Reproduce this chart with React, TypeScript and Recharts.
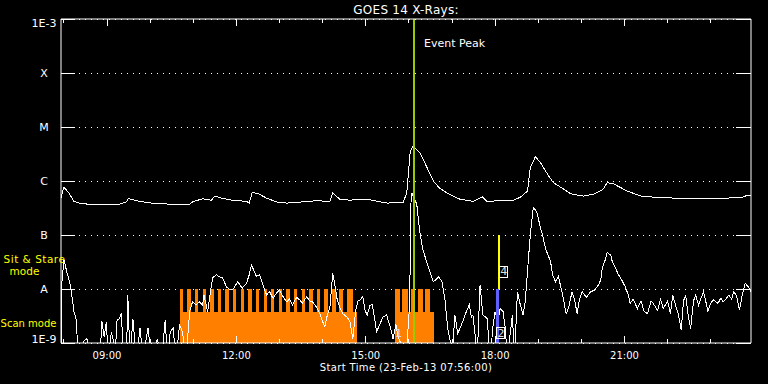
import React from "react";
import {
  Area,
  CartesianGrid,
  ComposedChart,
  Line,
  ReferenceDot,
  ReferenceLine,
  XAxis,
  YAxis,
} from "recharts";

// minutes after 00:00 UT on 23-Feb-13
const timeDomain = [476, 1436];
const hourTicks = [480, 540, 600, 660, 720, 780, 840, 900, 960, 1020, 1080, 1140, 1200, 1260, 1320, 1380];
const labelledTicks = [540, 720, 900, 1080, 1260];
const labelledText = ["09:00", "12:00", "15:00", "18:00", "21:00"];

const fluxTicks = [1e-9, 1e-8, 1e-7, 1e-6, 1e-5, 1e-4, 1e-3];
const fluxLabels = ["1E-9", "A", "B", "C", "M", "X", "1E-3"];

// 1-8 A channel [minute, W/m2]
const longChannel: [number, number][] = [
  [476, 4.9e-7], [480, 7.7e-7], [487, 6.0e-7], [494, 4.2e-7], [501, 3.9e-7],
  [515, 3.7e-7], [529, 3.7e-7], [543, 3.6e-7], [557, 3.7e-7], [567, 4.1e-7],
  [570, 4.75e-7], [581, 4.3e-7], [595, 4.0e-7], [609, 3.8e-7], [613, 3.9e-7],
  [627, 3.7e-7], [641, 3.6e-7], [655, 3.7e-7], [659, 4.1e-7], [673, 4.7e-7],
  [685, 4.4e-7], [690, 5.25e-7], [701, 4.75e-7], [715, 4.4e-7], [734, 4.2e-7],
  [738, 3.9e-7], [742, 6.2e-7], [752, 5.7e-7], [762, 4.8e-7], [776, 4.1e-7],
  [790, 3.9e-7], [804, 4.0e-7], [818, 4.2e-7], [832, 4.3e-7], [850, 4.2e-7],
  [854, 6.0e-7], [864, 4.6e-7], [878, 4.4e-7], [892, 4.6e-7], [906, 4.5e-7],
  [920, 4.1e-7], [930, 3.9e-7], [952, 4.0e-7], [957, 6.0e-7], [962, 3.6e-6],
  [966, 4.5e-6], [976, 3.2e-6], [985, 1.8e-6], [994, 1.0e-6], [1003, 7.3e-7],
  [1017, 5.6e-7], [1031, 4.6e-7], [1050, 4.2e-7], [1062, 5.1e-7], [1069, 4.1e-7],
  [1087, 4.4e-7], [1105, 4.4e-7], [1115, 5.0e-7], [1125, 6.5e-7], [1129, 1.8e-6],
  [1136, 2.8e-6], [1143, 2.2e-6], [1153, 1.33e-6], [1161, 9.3e-7], [1171, 7.7e-7],
  [1185, 5.8e-7], [1203, 5.25e-7], [1217, 5.7e-7], [1230, 7.0e-7], [1236, 9.3e-7],
  [1245, 8.8e-7], [1264, 6.5e-7], [1283, 5.25e-7], [1310, 4.9e-7], [1352, 4.75e-7],
  [1394, 4.8e-7], [1422, 4.9e-7], [1432, 5.5e-7], [1436, 5.5e-7],
];

// 0.5-4 A channel [minute, W/m2]
const shortChannel: [number, number][] = [
  [476, 5e-10], [477, 1.2e-8], [480, 3.5e-8], [484, 2.1e-8], [487, 1.5e-8],
  [490, 1.0e-8], [494, 3.8e-9], [497, 2.8e-9], [498, 1.6e-9], [501, 5e-10],
  [508, 1.1e-9], [512, 1.2e-9], [518, 5e-10], [530, 5e-10], [533, 2.5e-9],
  [536, 1.3e-9], [539, 2.4e-9], [542, 5e-10], [546, 1.6e-9], [549, 1.1e-9],
  [551, 5e-10], [554, 2.7e-9], [557, 2.8e-9], [560, 3.6e-9], [563, 5e-10],
  [567, 5e-10], [569, 7.7e-9], [572, 5e-10], [576, 2.8e-9], [581, 5e-10],
  [586, 1.9e-9], [590, 5e-10], [597, 1.9e-9], [602, 5e-10], [610, 1.2e-9],
  [616, 5e-10], [621, 2.7e-9], [624, 5e-10], [628, 1.6e-9], [632, 1.9e-9],
  [636, 5e-10], [641, 2.2e-9], [645, 1.6e-9], [650, 5e-10], [655, 3.8e-9],
  [659, 5.8e-9], [664, 5.1e-9], [669, 5.8e-9], [673, 5.0e-9], [675, 7.7e-9],
  [680, 3.8e-9], [684, 9.0e-9], [687, 1.6e-8], [692, 1.85e-8], [696, 1.7e-8],
  [701, 1.6e-8], [706, 1.1e-8], [710, 1.0e-8], [715, 9.7e-9], [722, 1.37e-8],
  [728, 1.03e-8], [734, 1.27e-8], [738, 1.85e-8], [741, 2.8e-8], [745, 2.1e-8],
  [748, 1.7e-8], [752, 1.85e-8], [756, 1.3e-8], [762, 7.7e-9], [766, 9.0e-9],
  [771, 6.7e-9], [776, 8.5e-9], [780, 9.7e-9], [784, 7.5e-9], [790, 5.8e-9],
  [794, 6.5e-9], [798, 5.1e-9], [804, 7.0e-9], [808, 6.3e-9], [812, 5.5e-9],
  [818, 7.2e-9], [822, 6.0e-9], [826, 5.8e-9], [832, 4.5e-9], [836, 3.5e-9],
  [840, 2.5e-9], [843, 2.0e-9], [847, 3.5e-9], [850, 4.35e-9], [854, 1.95e-8],
  [857, 1.2e-8], [860, 6.7e-9], [864, 4.5e-9], [868, 3.5e-9], [874, 3.0e-9],
  [878, 2.5e-9], [882, 1.2e-9], [886, 4.0e-9], [889, 6.0e-9], [892, 6.3e-9],
  [896, 7.2e-9], [899, 4.0e-9], [902, 3.3e-9], [906, 5.0e-9], [909, 5.1e-9],
  [913, 2.5e-9], [915, 1.6e-9], [920, 2.3e-9], [924, 3.0e-9], [929, 3.3e-9],
  [934, 2.0e-9], [938, 1.2e-9], [942, 2.2e-9], [945, 1.3e-9], [948, 1.04e-9],
  [952, 5e-10], [956, 5e-10], [961, 5.0e-9], [963, 4.2e-7], [964, 6.0e-7],
  [971, 3.7e-7], [975, 1.17e-7], [979, 5.7e-8], [986, 2.8e-8], [994, 1.37e-8],
  [998, 1.5e-8], [1001, 1.7e-8], [1006, 1.37e-8], [1010, 6.7e-9], [1014, 1.85e-9],
  [1017, 1.2e-9], [1020, 5e-10], [1024, 3.3e-9], [1028, 1.5e-9], [1031, 1.85e-9],
  [1035, 2.5e-9], [1038, 3.3e-9], [1044, 5.1e-9], [1047, 3.0e-9], [1049, 3.3e-9],
  [1052, 1.5e-9], [1055, 5e-10], [1059, 1.19e-8], [1063, 3.3e-9], [1069, 2.84e-9],
  [1071, 1.2e-9], [1073, 5e-10], [1077, 2.0e-9], [1080, 3.8e-9], [1084, 2.5e-9],
  [1087, 4.35e-9], [1091, 3.8e-9], [1094, 2.0e-9], [1097, 5e-10], [1101, 1.5e-9],
  [1104, 3.3e-9], [1107, 5e-10], [1111, 8.9e-9], [1115, 5.1e-9], [1119, 3.3e-9],
  [1122, 6.0e-9], [1125, 2.1e-8], [1129, 1.03e-7], [1133, 3.2e-7], [1136, 2.9e-7],
  [1139, 2.4e-7], [1143, 1.35e-7], [1146, 1.0e-7], [1150, 5.7e-8], [1153, 4.4e-8],
  [1157, 3.3e-8], [1160, 1.8e-8], [1164, 1.37e-8], [1168, 1.7e-8], [1173, 8.9e-9],
  [1179, 3.4e-9], [1183, 5.0e-9], [1187, 8.9e-9], [1191, 6.0e-9], [1194, 3.5e-9],
  [1197, 6.0e-9], [1201, 8.9e-9], [1207, 7.0e-9], [1213, 8.9e-9], [1218, 9.5e-9],
  [1224, 1.19e-8], [1227, 1.5e-8], [1229, 2.4e-8], [1234, 3.7e-8], [1236, 4.8e-8],
  [1241, 4.2e-8], [1243, 3.2e-8], [1247, 2.5e-8], [1252, 1.8e-8], [1257, 1.4e-8],
  [1261, 1.1e-8], [1265, 8.0e-9], [1268, 5.4e-9], [1272, 6.5e-9], [1278, 4.35e-9],
  [1283, 6.0e-9], [1287, 3.9e-9], [1292, 3.5e-9], [1297, 6.0e-9], [1300, 5.4e-9],
  [1306, 4.0e-9], [1310, 6.5e-9], [1314, 4.35e-9], [1320, 6.0e-9], [1324, 3.5e-9],
  [1327, 7.7e-9], [1331, 5.0e-9], [1334, 3.8e-9], [1337, 2.5e-9], [1339, 1.73e-9],
  [1342, 6.0e-9], [1345, 7.7e-9], [1349, 3.0e-9], [1352, 1.85e-9], [1356, 6.0e-9],
  [1359, 7.7e-9], [1363, 5.0e-9], [1366, 6.5e-9], [1370, 8.9e-9], [1373, 6.0e-9],
  [1376, 3.8e-9], [1380, 5.5e-9], [1384, 6.25e-9], [1390, 5.4e-9], [1394, 6.8e-9],
  [1397, 5.8e-9], [1401, 6.5e-9], [1405, 7.7e-9], [1409, 6.5e-9], [1412, 8.9e-9],
  [1416, 7.5e-9], [1420, 4.06e-9], [1424, 8.0e-9], [1428, 1.27e-8], [1432, 1.1e-8],
  [1436, 8.9e-9],
];

// observing mode: A level = sit & stare, lower level = scan
const modeSteps: [number, number | null][] = [
  [641, 1e-8], [646, 3.8e-9], [651, 1e-8], [657, 3.8e-9], [662, 1e-8], [667, 3.8e-9],
  [673, 1e-8], [678, 3.8e-9], [683, 1e-8], [689, 3.8e-9], [694, 1e-8], [699, 3.8e-9],
  [704, 1e-8], [710, 3.8e-9], [715, 1e-8], [720, 3.8e-9], [726, 1e-8], [731, 3.8e-9],
  [736, 1e-8], [742, 3.8e-9], [747, 1e-8], [752, 3.8e-9], [758, 1e-8], [763, 3.8e-9],
  [768, 1e-8], [773, 3.8e-9], [779, 1e-8], [784, 3.8e-9], [789, 1e-8], [795, 3.8e-9],
  [800, 1e-8], [805, 3.8e-9], [811, 1e-8], [816, 3.8e-9], [821, 1e-8], [826, 3.8e-9],
  [832, 1e-8], [837, 3.8e-9], [842, 1e-8], [848, 3.8e-9], [853, 1e-8], [858, 3.8e-9],
  [863, 1e-8], [869, 3.8e-9], [874, 1e-8], [882, 3.8e-9], [888, 3.8e-9], [889, null],
  [941, 1e-8], [948, 3.8e-9], [951, 1e-8], [959, 3.8e-9], [963, 1e-8], [969, 3.8e-9],
  [973, 1e-8], [980, 3.8e-9], [983, 1e-8], [990, 3.8e-9], [995, 3.8e-9],
];

const eventPeak = 966.5;
const sitStareMarker = { t: 1085.5, from: 1e-7, to: 1e-8 };
const scanMarker = { t: 1083.3, from: 1e-8, to: 1e-9 };
const notes: { t: number; flux: number; text: string; box: boolean }[] = [
  { t: 946, flux: 1.5e-9, text: "1", box: false },
  { t: 1088, flux: 1.5e-9, text: "2", box: true },
  { t: 1092, flux: 2.1e-8, text: "4", box: true },
];

const longData = longChannel.map(([t, flux]) => ({ t, flux }));
const shortData = shortChannel.map(([t, flux]) => ({ t, flux }));
const modeData = modeSteps.map(([t, flux]) => ({ t, flux }));

const PLOT_LEFT = 61;
const PLOT_RIGHT = 751;
const PLOT_TOP = 19;
const PLOT_BOTTOM = 343;
const FONT = "'DejaVu Sans', sans-serif";

function FluxTick(props: any) {
  const { y, payload } = props;
  const i = fluxTicks.findIndex((v) => Math.abs(v - payload.value) / v < 1e-6);
  const shift = i === 0 ? -4 : i === fluxTicks.length - 1 ? 4 : 0;
  return (
    <g>
      <line x1={PLOT_LEFT} x2={PLOT_LEFT + 14} y1={y} y2={y} stroke="#fff" shapeRendering="crispEdges" />
      <line x1={PLOT_RIGHT - 15} x2={PLOT_RIGHT} y1={y} y2={y} stroke="#fff" shapeRendering="crispEdges" />
      <text x={44} y={y + shift} textAnchor="middle" dominantBaseline="central" fill="#fff" fontSize={11} fontFamily={FONT}>
        {fluxLabels[i]}
      </text>
    </g>
  );
}

function TimeTick(props: any) {
  const { x, payload } = props;
  const i = labelledTicks.indexOf(payload.value);
  const len = i >= 0 ? 7 : 4;
  return (
    <g>
      <line x1={x} x2={x} y1={PLOT_BOTTOM} y2={PLOT_BOTTOM - len} stroke="#fff" shapeRendering="crispEdges" />
      <line x1={x} x2={x} y1={PLOT_TOP} y2={PLOT_TOP + len} stroke="#fff" shapeRendering="crispEdges" />
      {i >= 0 && (
        <text x={x} y={355} textAnchor="middle" dominantBaseline="central" fill="#fff" fontSize={10} fontFamily={FONT}>
          {labelledText[i]}
        </text>
      )}
    </g>
  );
}

function NoteMark(props: any) {
  const { cx, cy, text, box } = props;
  return (
    <g>
      {box && <rect x={cx - 4} y={cy - 5.5} width={8} height={11} fill="none" stroke="#fff" shapeRendering="crispEdges" />}
      <text x={cx} y={cy} textAnchor="middle" dominantBaseline="central" fill="#ddd" fontSize={11} fontFamily={FONT}>
        {text}
      </text>
    </g>
  );
}

function Txt({ x, y, color = "#fff", size = 11, anchor = "middle", spacing = 0, children }: any) {
  return (
    <div
      style={{
        position: "absolute",
        left: x,
        top: y,
        transform: `translate(${anchor === "middle" ? "-50%" : "0"}, -50%)`,
        color,
        fontSize: size,
        fontFamily: FONT,
        lineHeight: 1,
        letterSpacing: spacing,
        whiteSpace: "nowrap",
      }}
    >
      {children}
    </div>
  );
}

export default function App() {
  return (
    <div style={{ position: "absolute", left: 0, top: 0, width: 768, height: 384, background: "#000", overflow: "hidden" }}>
      <ComposedChart width={768} height={384} margin={{ top: 0, right: 0, bottom: 0, left: 0 }}>
        <CartesianGrid horizontal vertical={false} stroke="#fff" strokeDasharray="1 5" shapeRendering="crispEdges" />
        <XAxis
          dataKey="t"
          type="number"
          domain={timeDomain}
          allowDataOverflow
          ticks={hourTicks}
          interval={0}
          height={41}
          stroke="#fff"
          tickLine={false}
          tick={<TimeTick />}
        />
        <XAxis xAxisId="top" orientation="top" type="number" domain={timeDomain} allowDataOverflow height={19} stroke="#fff" tick={false} tickLine={false} />
        <YAxis
          type="number"
          scale="log"
          domain={[1e-9, 1e-3]}
          allowDataOverflow
          ticks={fluxTicks}
          interval={0}
          width={61}
          stroke="#fff"
          tickLine={false}
          tick={<FluxTick />}
        />
        <YAxis yAxisId="right" orientation="right" type="number" scale="log" domain={[1e-9, 1e-3]} allowDataOverflow width={17} stroke="#fff" tick={false} tickLine={false} />
        <Area
          data={modeData}
          dataKey="flux"
          type="stepAfter"
          baseValue="dataMin"
          fill="#ff8000"
          fillOpacity={1}
          stroke="none"
          connectNulls={false}
          shapeRendering="crispEdges"
          isAnimationActive={false}
        />
        <Line data={longData} dataKey="flux" type="linear" stroke="#fff" strokeWidth={1} dot={false} shapeRendering="crispEdges" isAnimationActive={false} />
        <Line data={shortData} dataKey="flux" type="linear" stroke="#fff" strokeWidth={1} dot={false} shapeRendering="crispEdges" isAnimationActive={false} />
        <ReferenceLine x={eventPeak} stroke="#99cc00" strokeWidth={2} shapeRendering="crispEdges" />
        <ReferenceLine
          segment={[{ x: sitStareMarker.t, y: sitStareMarker.from }, { x: sitStareMarker.t, y: sitStareMarker.to }]}
          stroke="#ffff00"
          strokeWidth={2}
          shapeRendering="crispEdges"
        />
        <ReferenceLine
          segment={[{ x: scanMarker.t, y: scanMarker.from }, { x: scanMarker.t, y: scanMarker.to }]}
          stroke="#6060ff"
          strokeWidth={3}
          shapeRendering="crispEdges"
        />
        {notes.map((n) => (
          <ReferenceDot
            key={n.text}
            x={n.t}
            y={n.flux}
            r={0}
            shape={(p: any) => <NoteMark {...p} text={n.text} box={n.box} />}
          />
        ))}
      </ComposedChart>
      <Txt x={406} y={10} size={12} spacing={0.25}>GOES 14 X-Rays:</Txt>
      <Txt x={424} y={43} anchor="start">Event Peak</Txt>
      <Txt x={34.5} y={259} color="#ffff00" size={10.5} spacing={0.5}>Sit &amp; Stare</Txt>
      <Txt x={24.5} y={271} color="#ffff00" size={10.5}>mode</Txt>
      <Txt x={28.5} y={324} color="#ffff00" size={10}>Scan mode</Txt>
      <Txt x={406} y={368} size={10} spacing={0.35}>Start Time (23-Feb-13 07:56:00)</Txt>
    </div>
  );
}
